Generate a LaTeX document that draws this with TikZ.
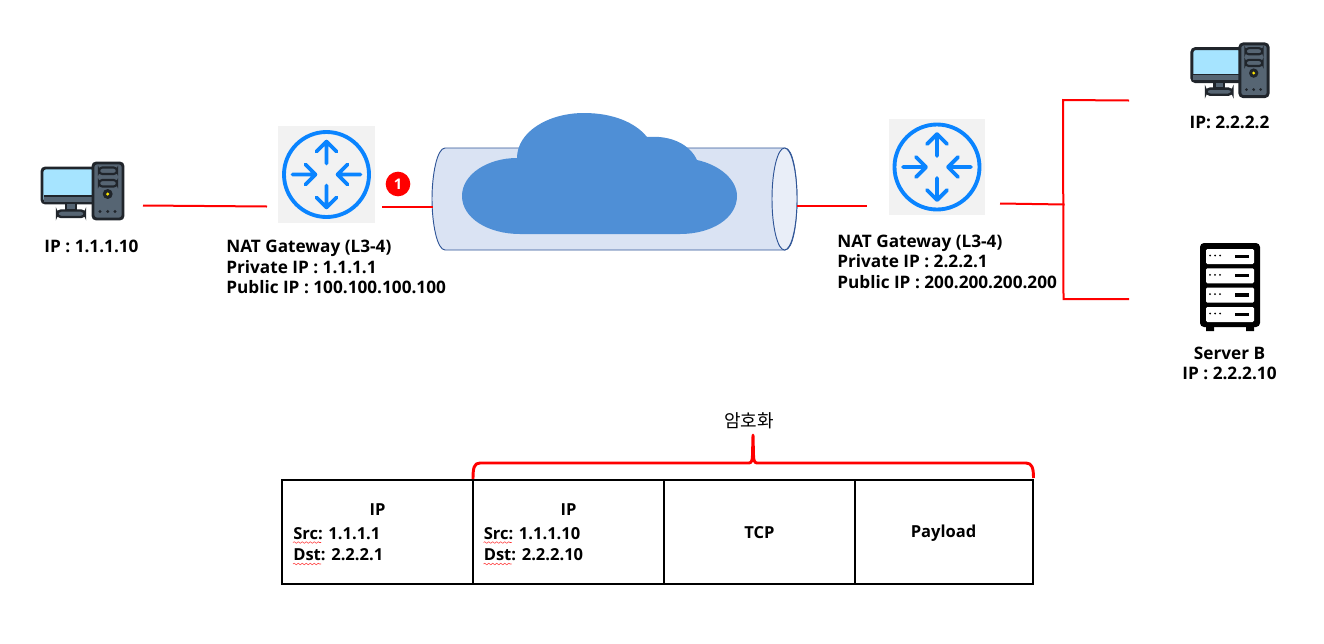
\documentclass[tikz,border=0pt]{standalone}
\usepackage{fontspec}
\setmainfont{Open Sans}
\newfontfamily\krfont{Noto Sans CJK KR}
\usetikzlibrary{decorations.pathmorphing,calc}
\definecolor{linkred}{HTML}{FF0000}
\definecolor{routerblue}{HTML}{0A84FF}
\definecolor{tubefill}{HTML}{DAE3F3}
\definecolor{tubeend}{HTML}{E9EEF8}
\definecolor{tubeline}{HTML}{2F5597}
\definecolor{cloudblue}{HTML}{4F8FD6}
\definecolor{iconline}{HTML}{20252B}
\definecolor{towergrey}{HTML}{566573}
\definecolor{screenblue}{HTML}{A6E4FF}
\tikzset{
  x=0.75pt,y=-0.75pt,
  link/.style={draw=linkred,line width=1.5pt},
  lbl/.style={font=\bfseries\fontsize{12.9}{15.4}\selectfont,align=left,anchor=west,inner sep=0pt,text=black},
  clbl/.style={lbl,align=center,anchor=center},
  tbl/.style={font=\bfseries\fontsize{12.4}{15.6}\selectfont},
  cell/.style={draw=black,line width=1.5pt,fill=white,minimum height=78pt,inner sep=0pt,outer sep=0pt,anchor=north west},
  squig/.style={draw=red!80,line width=.4pt,decorate,decoration={snake,amplitude=.6pt,segment length=3pt}},
  routerbox/.style={fill=black!5,minimum size=72.5pt,inner sep=0pt},
  arr/.style={draw=routerblue,line width=2.9pt,line cap=round,line join=round},
  pcicon/.pic={
    \fill[screenblue,draw=iconline,line width=2.2pt,rounded corners=2.5pt] (1,6) rectangle (54,41);
    \fill[towergrey] (2.5,34) rectangle (52,39.5);
    \fill[iconline] (2.5,32.5) rectangle (52,34.5);
    \fill[towergrey,draw=iconline,line width=1.6pt] (25,41) rectangle (35,48);
    \fill[towergrey,draw=iconline,line width=1.8pt,rounded corners=3pt] (16,48.5) rectangle (44,55);
    \fill[towergrey,draw=iconline,line width=2.2pt,rounded corners=2.5pt] (52,1) rectangle (82,57);
    \fill[towergrey,draw=iconline,line width=1.6pt,rounded corners=2.5pt] (58,5.5) rectangle (76,12);
    \fill[towergrey,draw=iconline,line width=1.6pt,rounded corners=2.5pt] (58,18) rectangle (76,24.5);
    \fill[iconline] (66.7,32) circle (5);
    \fill[yellow!90!orange] (66.7,32) circle (1.7);
    \fill[iconline] (59,49.5) circle (1.6) (66.7,49.5) circle (1.6) (74,49.5) circle (1.6);
  },
  servericon/.pic={
    \fill[black,rounded corners=3pt] (0,0) rectangle (60,84);
    \fill[black] (6,84) rectangle (14,88) (46,84) rectangle (54,88);
    \foreach \yy in {6,25.3,44.6,64}{
      \fill[white,rounded corners=1pt] (6,\yy) rectangle (54,\yy+15);
      \fill[black] (10,\yy+6.5) circle (1) (15,\yy+6.5) circle (1) (20,\yy+6.5) circle (1);
      \fill[black] (35,\yy+5.5) rectangle (49,\yy+9);
    }
  },
  routericon/.pic={
    \draw[arr,line cap=butt] (0,0) circle (42.5);
    \draw[arr] (0,-11) -- (0,-33) (-10,-23) -- (0,-33) -- (10,-23);
    \draw[arr] (0,11) -- (0,33) (-10,23) -- (0,33) -- (10,23);
    \draw[arr] (-34,0) -- (-11,0) (-21,-10) -- (-11,0) -- (-21,10);
    \draw[arr] (34,0) -- (11,0) (21,-10) -- (11,0) -- (21,10);
  }
}
\begin{document}
\begin{tikzpicture}
\useasboundingbox (0,0) rectangle (1324,643);
% tunnel
\path[fill=tubefill,draw=tubeline,line width=.7pt]
  (445,148) -- (785,148) .. controls (793,148) and (797,175) .. (797,199)
  .. controls (797,223) and (793,250) .. (785,250) -- (445,250)
  .. controls (437,250) and (432,223) .. (432,199) .. controls (432,175) and (437,148) .. (445,148) -- cycle;
\path[fill=tubeend,draw=tubeline,line width=.7pt] (784.5,199) ellipse (12.5 and 51);
% cloud
\fill[cloudblue] (517,158)
  .. controls (517,132) and (548,113) .. (584,113)
  .. controls (612,113) and (635,122) .. (647,137)
  .. controls (672,135) and (690,145) .. (697,160)
  .. controls (720,165) and (737,180) .. (737,196)
  .. controls (737,218) and (712,234) .. (680,234)
  -- (520,234)
  .. controls (488,234) and (462,218) .. (462,196)
  .. controls (462,174) and (488,158) .. (517,158) -- cycle;
% routers
\node[routerbox] (r1) at (326.5,174.5) {};
\node[routerbox] (r2) at (937,167) {};
\pic at (r1) {routericon};
\pic at (r2) {routericon};
% icons
\pic at (41,162) {pcicon};
\pic[scale=.94] at (1191,43) {pcicon};
\pic at (1200,243) {servericon};
% connector ends
\coordinate (pc1e) at (143,205.5);
\coordinate (r1w) at (267,206.5);
\coordinate (r1e) at (382,206.5);
\coordinate (tw) at (432.5,206.5);
\coordinate (te) at (797,206);
\coordinate (r2w) at (867,206);
\coordinate (r2e) at (1000,203.5);
\coordinate (hub) at (1064.5,204.5);
\coordinate (vt) at (1063,100);
\coordinate (vb) at (1063.5,299);
\coordinate (pc2w) at (1129,100.5);
\coordinate (srvw) at (1129,299);
\draw[link] (pc1e) -- (r1w);
\draw[link] (r1e) -- (tw);
\draw[link] (te) -- (r2w);
\draw[link] (r2e) -- (hub);
\draw[link] (pc2w) -- (vt) -- (vb) -- (srvw);
% badge
\node[circle,fill=linkred,minimum size=18.5pt,inner sep=0pt,text=white,font=\bfseries\fontsize{11}{12}\selectfont] (badge) at (398,184) {1};
% labels
\node[clbl] (pc1lbl) at (91.5,246) {IP : 1.1.1.10};
\node[lbl] (r1lbl) at (226,267) {NAT Gateway (L3-4)\\Private IP : 1.1.1.1\\Public IP : 100.100.100.100};
\node[lbl] (r2lbl) at (837,261.5) {NAT Gateway (L3-4)\\Private IP : 2.2.2.1\\Public IP : 200.200.200.200};
\node[clbl] (pc2lbl) at (1229.5,122) {IP: 2.2.2.2};
\node[clbl] (srvlbl) at (1229.5,363.5) {Server B\\IP : 2.2.2.10};
\node[clbl,font=\krfont\fontsize{13.5}{15.4}\selectfont] (enc) at (749,420.5) {암호화};
% table
\node[cell,minimum width=143.25pt] (c1) at (282,480) {};
\node[cell,minimum width=143.25pt] (c2) at (473,480) {};
\node[cell,minimum width=143.25pt] (c3) at (664,480) {};
\node[cell,minimum width=133.5pt] (c4) at (855,480) {};
\node[clbl,tbl] (ip1) at (377.5,510) {IP};
\node[clbl,tbl] (ip2) at (568.5,510) {IP};
\node[lbl,tbl] (a1) at (293,544.5) {Src: 1.1.1.1\\Dst: 2.2.2.1};
\node[lbl,tbl] (a2) at (483.5,544.5) {Src: 1.1.1.10\\Dst: 2.2.2.10};
\node[clbl,tbl] (tcp) at (759.5,533) {TCP};
\node[clbl,tbl] (pay) at (943.5,533.5) {Payload};
\draw[squig] (293,542.5) -- (321,542.5);
\draw[squig] (293,564) -- (321,564);
\draw[squig] (483.5,542.5) -- (511.5,542.5);
\draw[squig] (483.5,564) -- (511.5,564);
% bracket
\coordinate (bl) at (473,479);
\coordinate (br) at (1033.5,478);
\coordinate (btip) at (753,435);
\draw[draw=linkred,line width=2.2pt,line join=round]
  (bl) .. controls (473,468) and (474,463) .. (480,463) -- (749,463)
  .. controls (751.5,463) and (752.5,460) .. (752.5,455) -- (btip)
  -- (753.5,455) .. controls (753.5,460) and (754.5,463) .. (757,463) -- (1026,463)
  .. controls (1032,463) and (1033.5,468) .. (br);
\end{tikzpicture}
\end{document}
